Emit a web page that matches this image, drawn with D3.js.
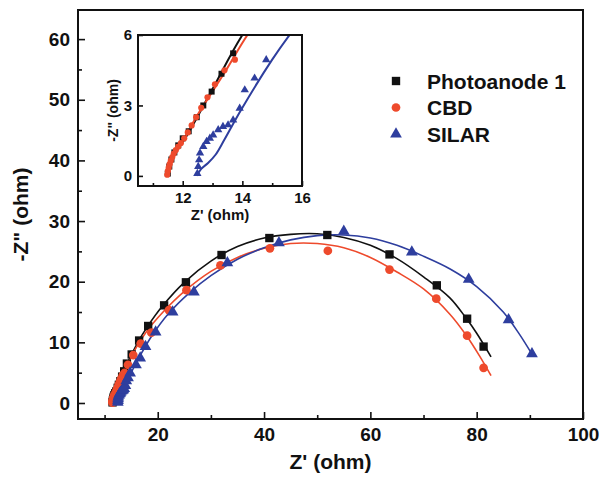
<!DOCTYPE html>
<html><head><meta charset="utf-8">
<script src="https://cdn.jsdelivr.net/npm/d3@7"></script>
<style>
body{margin:0;background:#fff}
svg{display:block}
text{font-family:Arial,"Liberation Sans",sans-serif;font-weight:bold;fill:#111}
</style>
</head><body>
<svg id="chart" width="605" height="487"></svg>
<script>
// ---------- data ----------
const seriesNames = ["Photoanode 1", "CBD", "SILAR"];
const seriesColors = ["#111111", "#ee4a2c", "#2e3e9e"];
const seriesSymbols = ["square", "circle", "triangle"];

const photoanodePoints = [[11.5,0.1],[11.55,0.4],[11.62,0.7],[11.72,1.0],[11.85,1.3],[12.0,1.6],[12.2,1.9],[12.47,2.5],[12.69,3.0],[12.97,3.59],[13.3,4.35],[13.69,5.22],[14.2,6.5],[15.1,8.0],[16.5,10.3],[18.2,12.7],[21.2,16.1],[25.3,19.9],[32.0,24.4],[41.0,27.2],[51.9,27.7],[63.6,24.5],[72.5,19.4],[78.2,13.9],[81.3,9.3]];
const cbdPoints = [[11.48,0.05],[11.5,0.2],[11.53,0.35],[11.56,0.5],[11.6,0.65],[11.65,0.8],[11.7,0.95],[11.77,1.1],[11.85,1.25],[11.94,1.4],[12.05,1.6],[12.17,1.85],[12.3,2.15],[12.45,2.5],[12.62,2.9],[12.83,3.35],[13.08,3.9],[13.4,4.5],[13.75,4.95],[14.4,6.3],[15.4,7.9],[16.8,9.8],[18.8,11.6],[22.1,15.3],[25.4,18.6],[31.8,22.7],[41.1,25.5],[52.0,25.1],[63.6,22.0],[72.4,17.2],[78.2,11.1],[81.3,5.8]];
const silarPoints = [[12.49,0.1],[12.52,0.4],[12.55,0.68],[12.58,0.97],[12.69,1.25],[12.8,1.46],[12.91,1.6],[13.02,1.74],[13.19,1.96],[13.35,2.1],[13.52,2.17],[13.69,2.38],[13.91,2.88],[14.08,3.66],[14.41,4.16],[14.8,4.94],[15.9,6.3],[16.7,7.4],[17.7,9.3],[19.6,11.7],[22.8,15.0],[26.8,18.3],[33.1,23.1],[42.8,26.4],[55.0,28.3],[67.8,24.9],[78.5,20.4],[86.0,13.7],[90.4,8.1]];

const photoanodeFit = [[11.47,0],[11.55,0.4],[11.75,1.0],[12.08,1.6],[13.0,3.7],[14.0,6.0],[16.0,9.6],[18.0,12.5],[21.0,16.1],[25.0,19.9],[30.0,23.4],[35.0,25.8],[40.0,27.2],[45.0,27.8],[50.0,27.9],[55.0,27.3],[60.0,26.0],[65.0,23.8],[70.0,20.8],[75.0,17.3],[78.0,14.0],[80.0,11.5],[82.7,7.6]];
const cbdFit = [[11.47,0],[11.52,0.3],[11.6,0.6],[11.75,1.0],[12.0,1.5],[12.5,2.6],[13.0,3.6],[13.5,4.6],[14.17,6.0],[16.0,9.2],[18.0,11.9],[21.0,15.0],[25.0,18.4],[30.0,21.7],[35.0,24.0],[40.0,25.5],[45.0,26.3],[50.0,26.3],[55.0,25.6],[60.0,24.0],[65.0,21.6],[70.0,18.8],[75.0,14.6],[78.0,11.2],[80.5,7.8],[82.7,4.5]];
const silarFit = [[12.47,0],[12.62,0.3],[12.85,0.55],[13.1,0.9],[13.4,1.55],[13.95,2.8],[15.0,4.95],[15.64,6.1],[17.0,8.3],[19.0,11.2],[22.0,14.7],[26.0,18.2],[30.0,21.0],[35.0,23.7],[40.0,25.6],[45.0,26.9],[50.0,27.6],[55.0,27.7],[60.0,27.2],[65.0,26.0],[70.0,24.2],[75.0,22.1],[80.0,19.2],[85.0,15.0],[88.0,11.4],[90.5,7.9]];

const xMajorTicks = [20, 40, 60, 80, 100];
const xMinorTicks = [10, 30, 50, 70, 90];
const yMajorTicks = [0, 10, 20, 30, 40, 50, 60];
const yMinorTicks = [5, 15, 25, 35, 45, 55];
const insetXMajorTicks = [12, 14, 16];
const insetXMinorTicks = [11, 13, 15];
const insetYMajorTicks = [0, 3, 6];

const xTitle = "Z' (ohm)";
const yTitle = "-Z\" (ohm)";

// ---------- drawing ----------
const svg = d3.select("#chart");
svg.append("rect").attr("width",605).attr("height",487).attr("fill","#fff");

const points = [photoanodePoints, cbdPoints, silarPoints];
const fits = [photoanodeFit, cbdFit, silarFit];
const symType = {square:d3.symbolSquare, circle:d3.symbolCircle, triangle:d3.symbolTriangle};

// main frame
const M = {l:78, r:583, t:10, b:419};
const x = d3.scaleLinear().domain([5,100]).range([M.l,M.r]);
const y = d3.scaleLinear().domain([-2.64,64.8]).range([M.b,M.t]);

function styleAxis(g, fs){
  g.select(".domain").remove();
  g.selectAll("line").attr("stroke","#111").attr("stroke-width",1.6);
  g.selectAll("text").attr("font-size",fs).style("font-family",'Arial,"Liberation Sans",sans-serif').style("font-weight","bold").attr("fill","#111");
}

const gm = svg.append("g");
const main = gm.append("g");
const line = d3.line().x(d=>x(d[0])).y(d=>y(d[1])).curve(d3.curveCatmullRom.alpha(0.5));
fits.forEach((f,i)=>{
  main.append("path").attr("d",line(f)).attr("fill","none").attr("stroke",seriesColors[i]).attr("stroke-width",1.6);
});
const symSizeMain = {square:70, circle:60, triangle:60};
points.forEach((pts,i)=>{
  main.append("g").selectAll("path").data(pts).join("path")
    .attr("transform",d=>`translate(${x(d[0])},${y(d[1])})`)
    .attr("d",d3.symbol().type(symType[seriesSymbols[i]]).size(symSizeMain[seriesSymbols[i]]))
    .attr("fill",seriesColors[i]);
});

// axes main
gm.append("g").attr("transform",`translate(0,${M.b})`)
  .call(d3.axisBottom(x).tickValues(xMajorTicks).tickSize(-7).tickPadding(9).tickFormat(d3.format("d")))
  .call(g=>styleAxis(g,19));
gm.append("g").attr("transform",`translate(0,${M.b})`)
  .call(d3.axisBottom(x).tickValues(xMinorTicks).tickSize(-4).tickFormat(""))
  .call(g=>styleAxis(g,19));
gm.append("g").attr("transform",`translate(${M.l},0)`)
  .call(d3.axisLeft(y).tickValues(yMajorTicks).tickSize(-7).tickPadding(8).tickFormat(d3.format("d")))
  .call(g=>styleAxis(g,19));
gm.append("g").attr("transform",`translate(${M.l},0)`)
  .call(d3.axisLeft(y).tickValues(yMinorTicks).tickSize(-4).tickFormat(""))
  .call(g=>styleAxis(g,19));
gm.append("rect").attr("x",M.l).attr("y",M.t).attr("width",M.r-M.l).attr("height",M.b-M.t)
  .attr("fill","none").attr("stroke","#111").attr("stroke-width",2);

svg.append("text").attr("x",(M.l+M.r)/2).attr("y",469).attr("text-anchor","middle").attr("font-size",21).text(xTitle);
svg.append("text").attr("transform",`translate(28,${(M.t+M.b)/2}) rotate(-90)`).attr("text-anchor","middle").attr("font-size",21).text(yTitle);

// legend
const legend = svg.append("g");
seriesNames.forEach((n,i)=>{
  const ly = 81 + i*26.5;
  legend.append("path").attr("transform",`translate(396,${ly})`)
    .attr("d",d3.symbol().type(symType[seriesSymbols[i]]).size(symSizeMain[seriesSymbols[i]]))
    .attr("fill",seriesColors[i]);
  legend.append("text").attr("x",427).attr("y",ly+7.5).attr("font-size",21).text(n);
});

// inset
const I = {l:138, r:302, t:35, b:186};
const xi = d3.scaleLinear().domain([10.5,16]).range([I.l,I.r]);
const yi = d3.scaleLinear().domain([-0.43,6]).range([I.b,I.t]);
const gi = svg.append("g");
gi.append("rect").attr("x",I.l).attr("y",I.t).attr("width",I.r-I.l).attr("height",I.b-I.t).attr("fill","#fff");
svg.append("clipPath").attr("id","insetClip").append("rect").attr("x",I.l).attr("y",I.t).attr("width",I.r-I.l).attr("height",I.b-I.t);
const inner = gi.append("g").attr("clip-path","url(#insetClip)");
const linei = d3.line().x(d=>xi(d[0])).y(d=>yi(d[1])).curve(d3.curveCatmullRom.alpha(0.5));
fits.forEach((f,i)=>{
  inner.append("path").attr("d",linei(f)).attr("fill","none").attr("stroke",seriesColors[i]).attr("stroke-width",2);
});
const symSizeInset = {square:36, circle:30, triangle:30};
points.forEach((pts,i)=>{
  inner.append("g").selectAll("path").data(pts.filter(d=>d[0]<=16.5 && d[1]<=6.5)).join("path")
    .attr("transform",d=>`translate(${xi(d[0])},${yi(d[1])})`)
    .attr("d",d3.symbol().type(symType[seriesSymbols[i]]).size(symSizeInset[seriesSymbols[i]]))
    .attr("fill",seriesColors[i]);
});
gi.append("g").attr("transform",`translate(0,${I.b})`)
  .call(d3.axisBottom(xi).tickValues(insetXMajorTicks).tickSize(-5).tickPadding(6).tickFormat(d3.format("d")))
  .call(g=>styleAxis(g,15));
gi.append("g").attr("transform",`translate(0,${I.b})`)
  .call(d3.axisBottom(xi).tickValues(insetXMinorTicks).tickSize(-3).tickFormat(""))
  .call(g=>styleAxis(g,15));
gi.append("g").attr("transform",`translate(${I.l},0)`)
  .call(d3.axisLeft(yi).tickValues(insetYMajorTicks).tickSize(-5).tickPadding(6).tickFormat(d3.format("d")))
  .call(g=>styleAxis(g,15));
gi.append("rect").attr("x",I.l).attr("y",I.t).attr("width",I.r-I.l).attr("height",I.b-I.t)
  .attr("fill","none").attr("stroke","#111").attr("stroke-width",2);
gi.append("text").attr("x",(I.l+I.r)/2).attr("y",220).attr("text-anchor","middle").attr("font-size",15).text(xTitle);
gi.append("text").attr("transform",`translate(118,${(I.t+I.b)/2}) rotate(-90)`).attr("text-anchor","middle").attr("font-size",14).text(yTitle);
</script>
</body></html>
